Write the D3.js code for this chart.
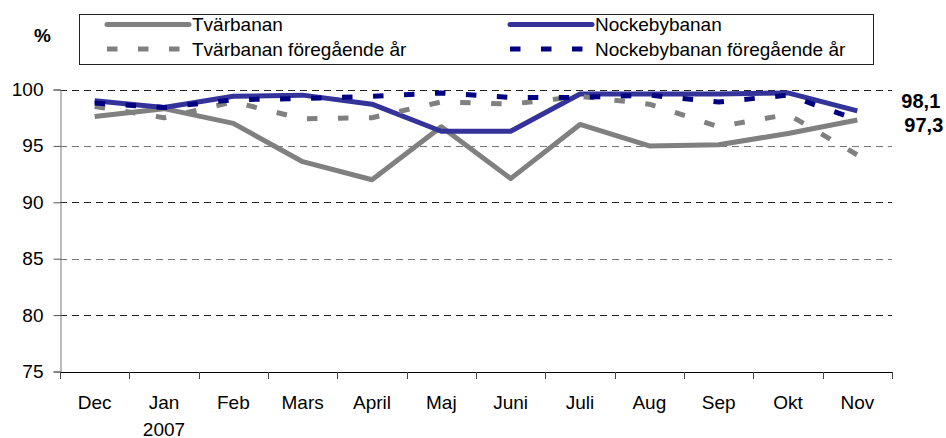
<!DOCTYPE html>
<html>
<head>
<meta charset="utf-8">
<script src="https://cdn.jsdelivr.net/npm/d3@7"></script>
<style>
  body { margin: 0; background: #fff; }
  svg { display: block; font-family: "Liberation Sans", Arial, sans-serif; }
</style>
</head>
<body>
<svg id="chart"></svg>
<script>
const w = 946;
const h = 438;

// data
const months = ["Dec", "Jan", "Feb", "Mars", "April", "Maj", "Juni", "Juli", "Aug", "Sep", "Okt", "Nov"];
const subLabels = ["", "2007", "", "", "", "", "", "", "", "", "", ""];
const yTicks = [75, 80, 85, 90, 95, 100];

const tvarbanan = [97.6, 98.3, 97.0, 93.6, 92.0, 96.7, 92.1, 96.9, 95.0, 95.1, 96.1, 97.3];
const nockebybanan = [99.0, 98.4, 99.4, 99.5, 98.7, 96.3, 96.3, 99.6, 99.6, 99.6, 99.7, 98.1];
const tvarbananPrev = [98.5, 97.5, 98.9, 97.4, 97.5, 98.9, 98.7, 99.4, 98.7, 96.7, 97.8, 94.2];
const nockebybananPrev = [98.8, 98.4, 99.1, 99.2, 99.4, 99.7, 99.3, 99.3, 99.5, 98.9, 99.5, 97.3];

const series = [
  { name: "Tvärbanan", values: tvarbanan, color: "#808080", dash: null },
  { name: "Nockebybanan", values: nockebybanan, color: "#333399", dash: null },
  { name: "Tvärbanan föregående år", values: tvarbananPrev, color: "#808080", dash: "10.5,20.5" },
  { name: "Nockebybanan föregående år", values: nockebybananPrev, color: "#000080", dash: "10.5,20.5" }
];

const plotLeft = 60, plotRight = 892, plotTop = 89.5, plotBottom = 371.5;

var chart = d3.select("#chart")
  .attr("width", w)
  .attr("height", h);

const xScale = d3.scaleBand()
                 .domain(months)
                 .range([plotLeft, plotRight])
                 .padding(0);

const yScale = d3.scaleLinear()
                 .domain([75, 100])
                 .range([plotBottom, plotTop]);

const cx = m => xScale(m) + xScale.bandwidth() / 2;

// grid lines
chart.append("g")
     .selectAll("line")
     .data(yTicks.filter(d => d > 75))
     .join("line")
     .attr("x1", plotLeft)
     .attr("x2", plotRight)
     .attr("y1", d => Math.round(yScale(d)) + 0.5)
     .attr("y2", d => Math.round(yScale(d)) + 0.5)
     .attr("stroke", (d, i) => i % 2 === 0 ? "#222" : "#777")
     .attr("stroke-width", 1)
     .attr("stroke-dasharray", "7,5");

// y axis
const yAxis = d3.axisLeft(yScale).tickValues(yTicks).tickSize(7).tickPadding(10);
const gy = chart.append("g")
     .attr("id", "y-axis")
     .attr("transform", `translate(${plotLeft + 0.5}, 0)`)
     .call(yAxis);
gy.select(".domain").attr("stroke", "#777");
gy.selectAll(".tick line").attr("stroke", "#555");
gy.selectAll(".tick text")
  .attr("font-size", 19)
  .attr("fill", "#000")
  .attr("font-family", "Liberation Sans, Arial, sans-serif");

// x axis
const xTickPos = months.map(m => xScale(m)).concat([plotRight]);
chart.append("line")
     .attr("x1", plotLeft).attr("x2", plotRight)
     .attr("y1", Math.round(plotBottom) + 0.5).attr("y2", Math.round(plotBottom) + 0.5)
     .attr("stroke", "#000");
chart.append("g")
     .selectAll("line")
     .data(xTickPos)
     .join("line")
     .attr("x1", d => Math.round(d) + 0.5)
     .attr("x2", d => Math.round(d) + 0.5)
     .attr("y1", Math.round(plotBottom))
     .attr("y2", Math.round(plotBottom) + 7)
     .attr("stroke", "#444");

chart.append("g")
     .selectAll("text")
     .data(months)
     .join("text")
     .attr("x", d => cx(d))
     .attr("y", plotBottom + 37)
     .attr("text-anchor", "middle")
     .attr("font-size", 19)
     .text(d => d);

chart.append("g")
     .selectAll("text")
     .data(months.map((m, i) => ({ m: m, t: subLabels[i] })).filter(d => d.t))
     .join("text")
     .attr("x", d => cx(d.m))
     .attr("y", plotBottom + 64)
     .attr("text-anchor", "middle")
     .attr("font-size", 19)
     .text(d => d.t);

// lines
const line = d3.line()
               .x((d, i) => cx(months[i]))
               .y(d => yScale(d));

chart.append("g")
     .selectAll("path")
     .data(series)
     .join("path")
     .attr("d", d => line(d.values))
     .attr("fill", "none")
     .attr("stroke", d => d.color)
     .attr("stroke-width", 5)
     .attr("stroke-linejoin", "round")
     .attr("stroke-dasharray", d => d.dash);

// end labels
const sv = d3.formatLocale({ decimal: ",", thousands: " ", grouping: [3], currency: ["", ""] }).format(".1f");
const last = months[months.length - 1];
chart.append("text")
     .attr("x", cx(last) + 44)
     .attr("y", yScale(nockebybanan[11]) - 10)
     .attr("dy", "0.35em")
     .attr("font-size", 20)
     .attr("font-weight", "bold")
     .text(sv(nockebybanan[11]));
chart.append("text")
     .attr("x", cx(last) + 47)
     .attr("y", yScale(tvarbanan[11]) + 5)
     .attr("dy", "0.35em")
     .attr("font-size", 20)
     .attr("font-weight", "bold")
     .text(sv(tvarbanan[11]));

// unit
chart.append("text")
     .attr("x", 34)
     .attr("y", 35)
     .attr("dy", "0.35em")
     .attr("font-size", 19)
     .attr("font-weight", "bold")
     .text("%");

// legend
const legend = chart.append("g");
legend.append("rect")
      .attr("x", 79.5).attr("y", 14.5)
      .attr("width", 794).attr("height", 50)
      .attr("fill", "#fff")
      .attr("stroke", "#222");

const legendPos = [
  { x: 107, y: 24.5 }, { x: 510, y: 24.5 },
  { x: 107, y: 49 }, { x: 510, y: 49 }
];

const item = legend.selectAll("g.item")
  .data(series)
  .join("g")
  .attr("class", "item")
  .attr("transform", (d, i) => `translate(${legendPos[i].x}, ${legendPos[i].y})`);

item.append("line")
    .attr("x1", 0).attr("x2", 82)
    .attr("stroke", d => d.color)
    .attr("stroke-width", 5)
    .attr("stroke-linecap", d => d.dash ? "butt" : "round")
    .attr("stroke-dasharray", d => d.dash);

item.append("text")
    .attr("x", 85)
    .attr("dy", "0.35em")
    .attr("font-size", 19)
    .text(d => d.name);
</script>
</body>
</html>
